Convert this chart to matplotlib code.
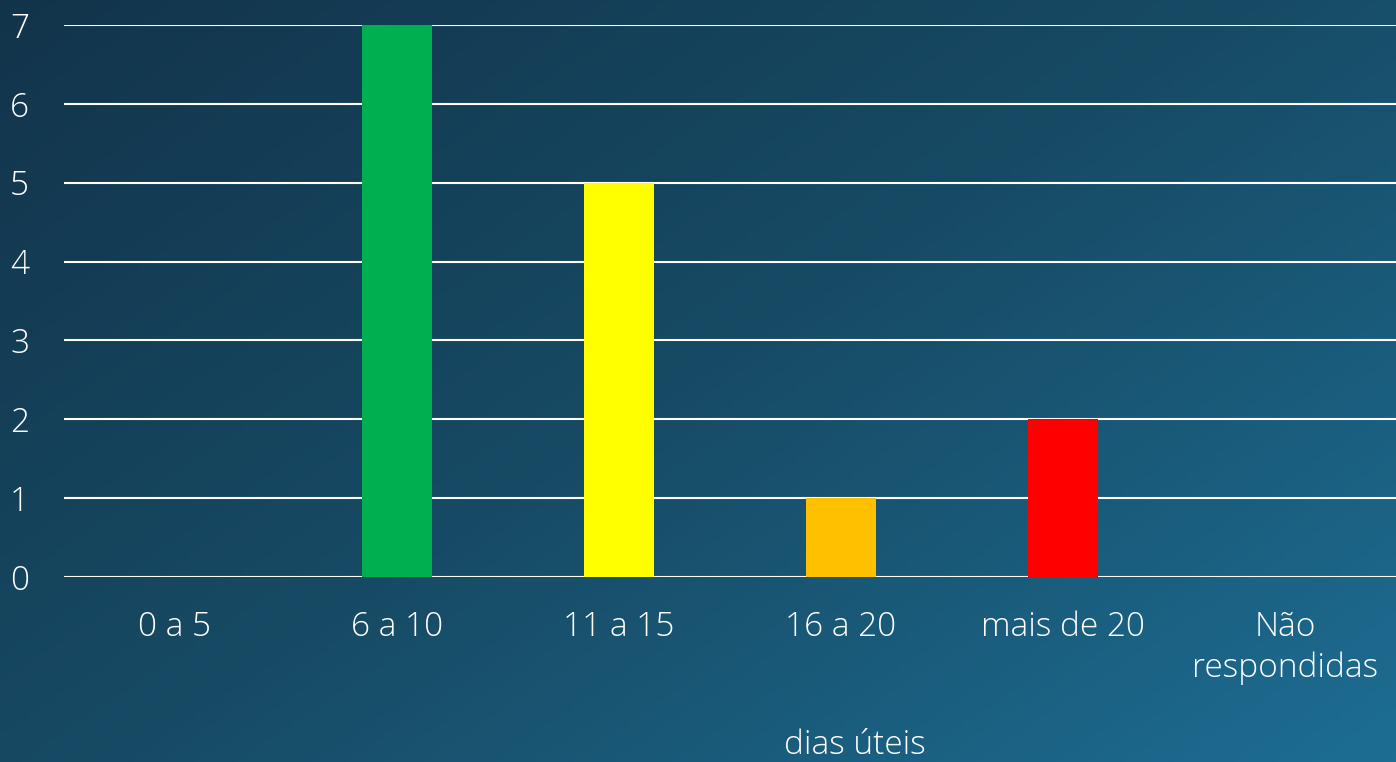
import matplotlib.pyplot as plt
import numpy as np
from matplotlib.colors import LinearSegmentedColormap

categorias = ['0 a 5', '6 a 10', '11 a 15', '16 a 20', 'mais de 20', 'Não\nrespondidas']
valores = [0, 7, 5, 1, 2, 0]
cores = ['#00b050', '#00b050', '#ffff00', '#ffc000', '#ff0000', '#ff0000']

plt.rcParams['font.family'] = ['Open Sans', 'DejaVu Sans']
plt.rcParams['font.weight'] = 'light'

fig = plt.figure(figsize=(13.96, 7.62), dpi=100)

# fundo em degradê (canto sup. esq. escuro -> inf. dir. mais claro)
bg = fig.add_axes([0, 0, 1, 1], zorder=-10)
yy, xx = np.mgrid[0:1:200j, 0:1:200j]
t = (xx * 0.55 + yy * 0.45)
cmap = LinearSegmentedColormap.from_list('bg', ['#12344b', '#174b65', '#1d6d93'])
bg.imshow(t, cmap=cmap, extent=[0, 1, 0, 1], origin='upper', aspect='auto')
bg.axis('off')

ax = fig.add_axes([64/1396, 1-577/762, 1-64/1396, (577-25)/762])
ax.patch.set_alpha(0)
x = np.arange(len(categorias))
ax.bar(x, valores, width=0.315, color=cores, zorder=3)

ax.set_xlim(-0.5, len(categorias) - 0.5)
ax.set_ylim(0, 7)
ax.set_yticks(range(0, 8))
ax.set_xticks(x)
ax.set_xticklabels(categorias, linespacing=1.3)
ax.yaxis.grid(True, color='white', linewidth=1.5, zorder=0)
ax.set_axisbelow(True)
for s in ax.spines.values():
    s.set_visible(False)
ax.tick_params(axis='both', length=0, colors='white', labelsize=24)
ax.tick_params(axis='x', pad=24)
ax.tick_params(axis='y', pad=32)
for lbl in ax.get_yticklabels():
    lbl.set_horizontalalignment('center')

fig.text(855/1396, 1-745/762, 'dias úteis', color='white', fontsize=24,
         ha='center', va='center')

fig.savefig('out.png', dpi=100)
